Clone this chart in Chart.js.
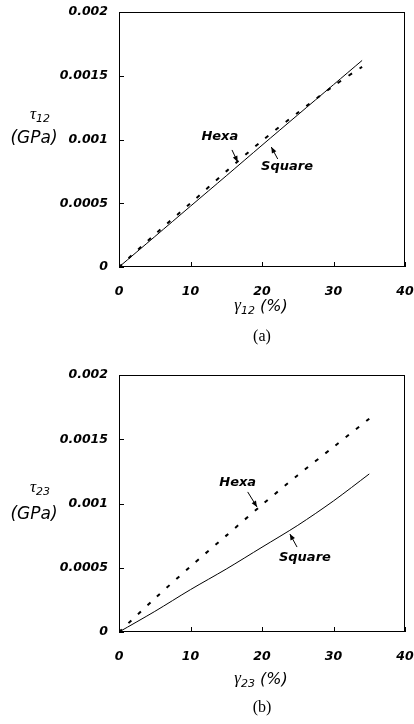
<!DOCTYPE html>
<html>
<head>
<meta charset="utf-8">
<script src="https://cdn.jsdelivr.net/npm/chart.js@4.4.1/dist/chart.umd.min.js"></script>
<style>
  body { margin: 0; background: #fff; }
  .panel { position: absolute; left: 0; width: 414px; }
</style>
</head>
<body>
<div class="panel" style="top:0;height:350px"><canvas id="c1"></canvas></div>
<div class="panel" style="top:360px;height:364px"><canvas id="c2"></canvas></div>
<script>
// shear strain (%) vs shear stress (GPa)
const strainA = [0, 5, 10, 15, 20, 25, 30, 34];
const hexaA   = [0, 0.000255, 0.0005, 0.00075, 0.00099, 0.00121, 0.00142, 0.00157];
const squareA = [0, 0.000238, 0.000477, 0.000715, 0.000955, 0.001193, 0.00143, 0.00162];

const strainB = [0, 5, 10, 15, 20, 25, 30, 35];
const hexaB   = [0, 0.00026, 0.00051, 0.00075, 0.00099, 0.00122, 0.00144, 0.00166];
const squareB = [0, 0.00016, 0.00033, 0.00049, 0.00066, 0.00083, 0.00102, 0.00123];

const xTicks = [0, 10, 20, 30, 40];
const yTicks = [0, 0.0005, 0.001, 0.0015, 0.002];

const tickFont = { family: 'DejaVu Sans', size: 12.5, style: 'italic', weight: 'bold' };

const pts = (xs, ys) => xs.map((x, i) => ({ x, y: ys[i] }));

function arrow(ctx, x0, y0, x1, y1) {
  ctx.beginPath();
  ctx.moveTo(x0, y0);
  ctx.lineTo(x1, y1);
  ctx.stroke();
  const ang = Math.atan2(y1 - y0, x1 - x0);
  const len = 6, w = 2.5;
  ctx.beginPath();
  ctx.moveTo(x1, y1);
  ctx.lineTo(x1 - len * Math.cos(ang) + w * Math.sin(ang), y1 - len * Math.sin(ang) - w * Math.cos(ang));
  ctx.lineTo(x1 - len * Math.cos(ang) - w * Math.sin(ang), y1 - len * Math.sin(ang) + w * Math.cos(ang));
  ctx.closePath();
  ctx.fill();
}

// symbol with subscript and optional trailing text, centered at cx
function subLabel(ctx, sym, sub, tail, cx, cy) {
  const symFont = 'italic 17px "Liberation Serif"';
  const subFont = 'italic 11px "DejaVu Sans"';
  const tailFont = 'italic 16px "DejaVu Sans"';
  ctx.font = symFont; const w1 = ctx.measureText(sym).width;
  ctx.font = subFont; const w2 = ctx.measureText(sub).width;
  ctx.font = tailFont; const w3 = tail ? ctx.measureText(tail).width : 0;
  let x = cx - (w1 + w2 + w3) / 2;
  ctx.textAlign = 'left';
  ctx.textBaseline = 'middle';
  ctx.font = symFont; ctx.fillText(sym, x, cy - 1); x += w1;
  ctx.font = subFont; ctx.fillText(sub, x, cy + 4); x += w2;
  if (tail) { ctx.font = tailFont; ctx.fillText(tail, x, cy); }
}

const frame = {
  id: 'frame',
  afterDraw(chart, args, opts) {
    const { ctx, chartArea: a, scales: { x, y } } = chart;
    ctx.save();
    ctx.strokeStyle = '#000';
    ctx.fillStyle = '#000';
    ctx.lineWidth = 1;
    ctx.strokeRect(a.left + 0.5, a.top + 0.5, a.width - 1, a.height - 1);

    // inward ticks
    ctx.beginPath();
    x.ticks.forEach(t => {
      const px = Math.round(x.getPixelForValue(t.value)) + 0.5;
      ctx.moveTo(px, a.bottom); ctx.lineTo(px, a.bottom - 5);
    });
    y.ticks.forEach(t => {
      const py = Math.round(y.getPixelForValue(t.value)) + 0.5;
      ctx.moveTo(a.left, py); ctx.lineTo(a.left + 5, py);
    });
    ctx.stroke();

    // axis titles
    subLabel(ctx, 'γ', opts.sub, ' (%)', a.left + 142, a.bottom + opts.xTitleDy);
    subLabel(ctx, 'τ', opts.sub, '', 40, y.getPixelForValue(opts.yTitleAt));
    ctx.font = 'italic 17px "DejaVu Sans"';
    ctx.textAlign = 'center';
    ctx.textBaseline = 'middle';
    ctx.fillText('(GPa)', 34, y.getPixelForValue(opts.yTitleAt) + opts.gpaDy);

    // caption
    ctx.font = '16px "Liberation Serif"';
    ctx.fillText(opts.caption, a.left + 143, a.bottom + opts.captionDy);

    // curve notes
    ctx.font = 'italic bold 13px "DejaVu Sans"';
    opts.notes.forEach(n => {
      ctx.fillText(n.text, x.getPixelForValue(n.x), y.getPixelForValue(n.y));
      arrow(ctx, x.getPixelForValue(n.from[0]), y.getPixelForValue(n.from[1]),
                 x.getPixelForValue(n.to[0]), y.getPixelForValue(n.to[1]));
    });
    ctx.restore();
  }
};

function makeChart(id, xs, hexa, square, pad, xAxisH, opts) {
  return new Chart(document.getElementById(id), {
    type: 'scatter',
    data: {
      datasets: [
        { label: 'Square', data: pts(xs, square), showLine: true, borderColor: '#000',
          borderWidth: 1, pointRadius: 0, tension: 0.3 },
        { label: 'Hexa', data: pts(xs, hexa), showLine: true, borderColor: '#000',
          borderWidth: 2, borderDash: [4, 9], pointRadius: 0, tension: 0.3 }
      ]
    },
    options: {
      responsive: true,
      maintainAspectRatio: false,
      animation: false,
      layout: { padding: pad },
      plugins: { legend: { display: false }, tooltip: { enabled: false }, frame: opts },
      scales: {
        x: {
          type: 'linear', min: 0, max: 40,
          afterBuildTicks: s => { s.ticks = xTicks.map(v => ({ value: v })); },
          afterFit: s => { s.height = xAxisH; },
          // tick marks drawn inward by the plugin; tickLength only offsets labels
          grid: { display: false, drawTicks: true, tickLength: 17 },
          border: { display: false },
          ticks: { color: '#000', font: tickFont, padding: 0, maxRotation: 0 }
        },
        y: {
          type: 'linear', min: 0, max: 0.002,
          afterBuildTicks: s => { s.ticks = yTicks.map(v => ({ value: v })); },
          afterFit: s => { s.width = 119; },
          grid: { display: false, drawTicks: true, tickLength: 11 },
          border: { display: false },
          ticks: { color: '#000', font: tickFont, padding: 0, callback: v => String(v) }
        }
      }
    },
    plugins: [frame]
  });
}

makeChart('c1', strainA, hexaA, squareA, { left: 0, right: 9, top: 12, bottom: 0 }, 83, {
  sub: '12', caption: '(a)', xTitleDy: 40, captionDy: 70, yTitleAt: 0.00119, gpaDy: 23,
  notes: [
    { text: 'Hexa', x: 14.1, y: 0.00102, from: [15.8, 0.000918], to: [16.6, 0.000824] },
    { text: 'Square', x: 23.5, y: 0.000784, from: [22.2, 0.000847], to: [21.3, 0.000941] }
  ]
});

makeChart('c2', strainB, hexaB, squareB, { left: 0, right: 9, top: 15, bottom: 0 }, 92, {
  sub: '23', caption: '(b)', xTitleDy: 48, captionDy: 76, yTitleAt: 0.00112, gpaDy: 26,
  notes: [
    { text: 'Hexa', x: 16.6, y: 0.00116, from: [18.0, 0.00109], to: [19.3, 0.000973] },
    { text: 'Square', x: 26.0, y: 0.000576, from: [24.9, 0.000661], to: [23.9, 0.000763] }
  ]
});
</script>
</body>
</html>
